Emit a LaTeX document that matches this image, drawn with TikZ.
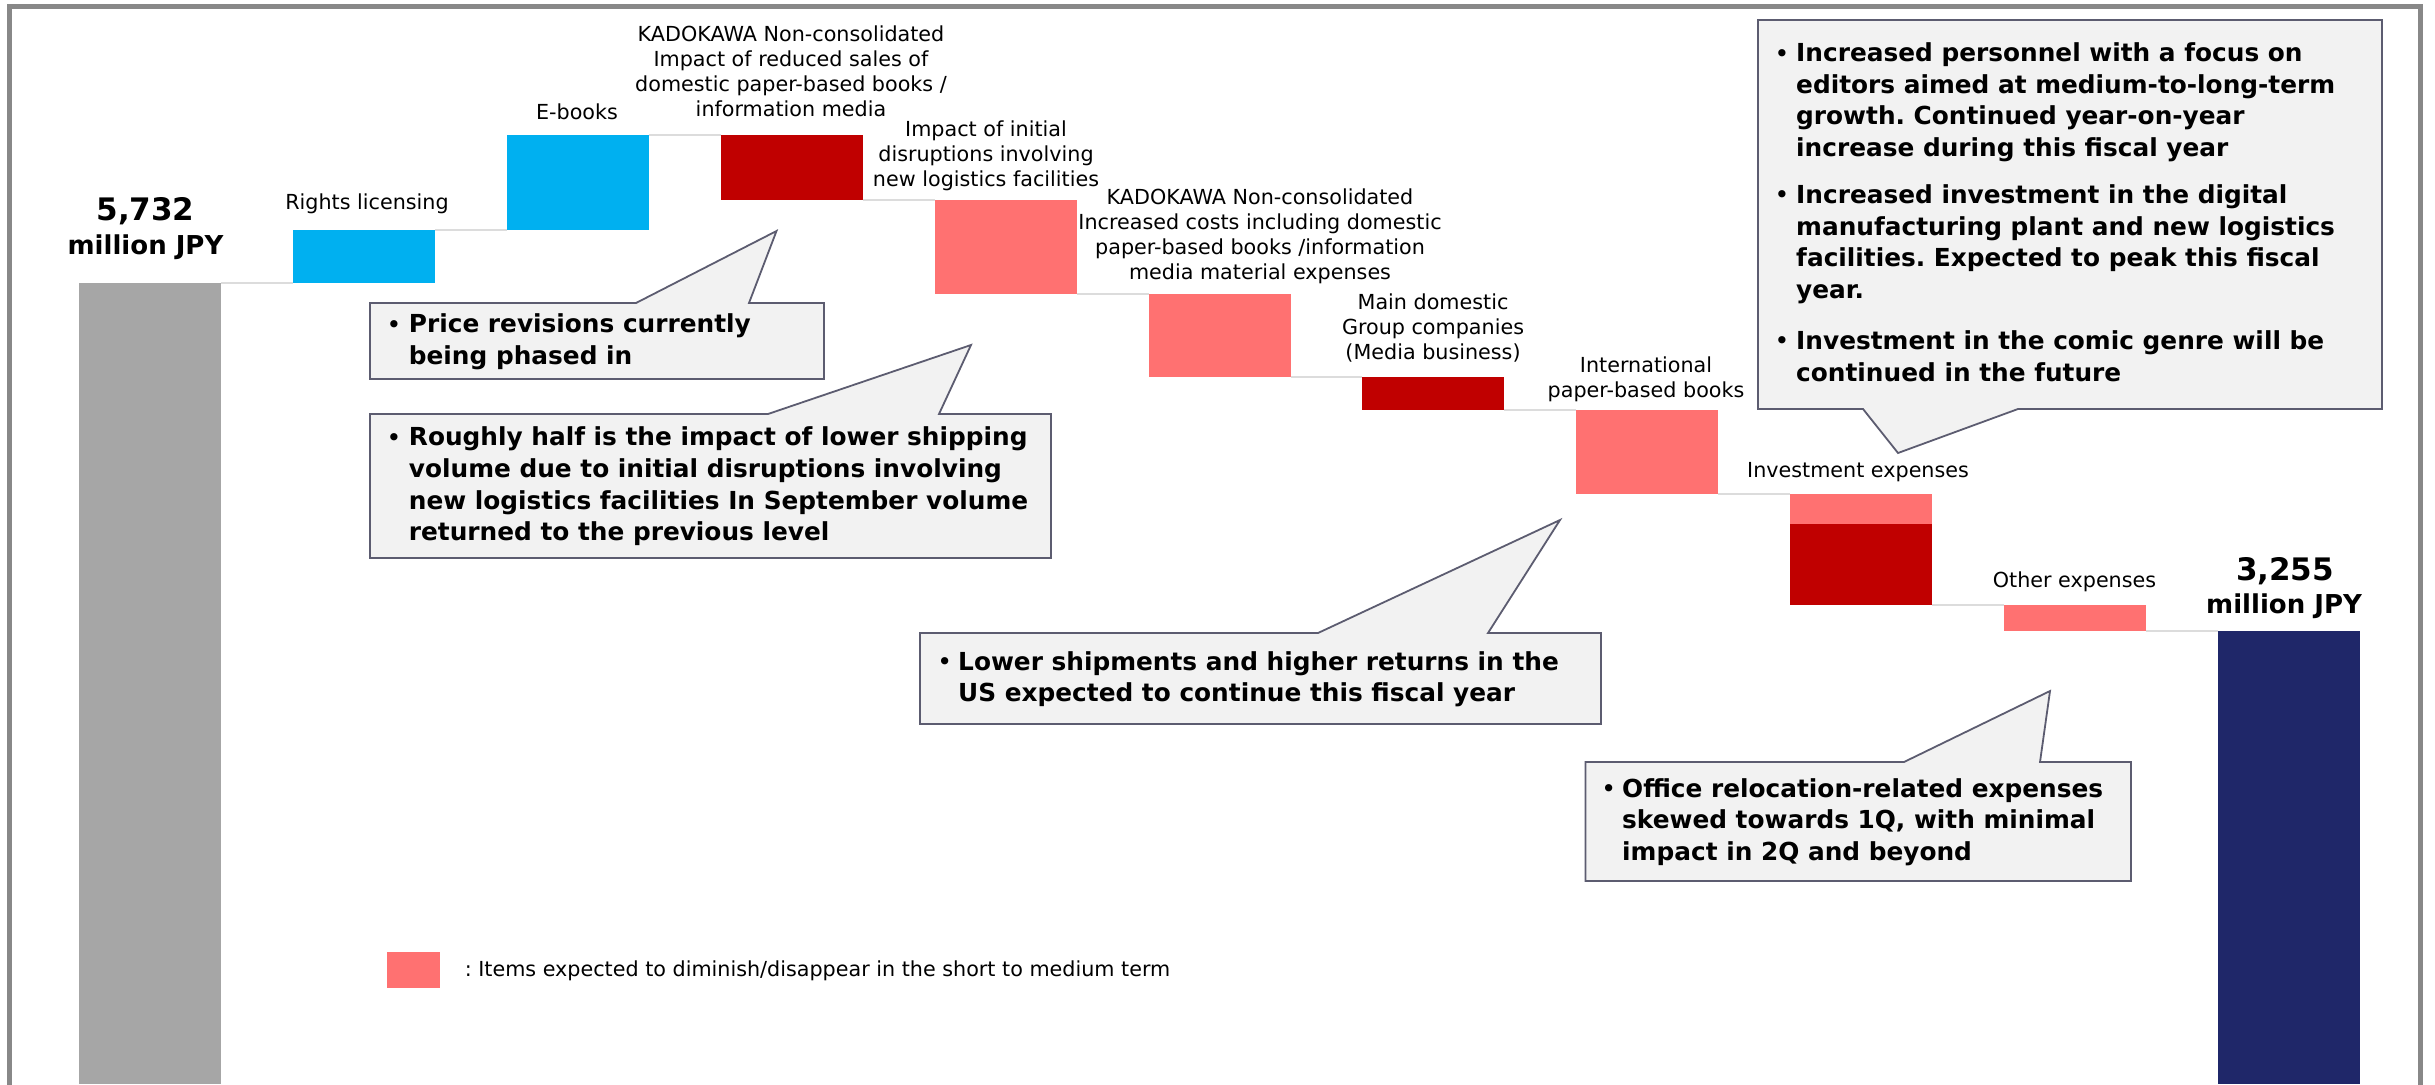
\documentclass[tikz,border=0pt]{standalone}
\usepackage{fontspec}
\setmainfont{DejaVu Sans}
\frenchspacing
\definecolor{barcyan}{HTML}{00B0F0}
\definecolor{bardark}{HTML}{C00000}
\definecolor{barpink}{HTML}{FF7171}
\definecolor{bargray}{HTML}{A6A6A6}
\definecolor{barnavy}{HTML}{1F2769}
\definecolor{linkgray}{HTML}{DCDCDC}
\definecolor{framegray}{HTML}{888888}
\definecolor{notefill}{HTML}{F2F2F2}
\definecolor{noteline}{HTML}{5C5C70}
\begin{document}
\begin{tikzpicture}[x=1pt,y=-1pt,
  bar/.style={rectangle, draw=none, inner sep=0pt, outer sep=0pt,
    minimum width=142pt, anchor=north west},
  link/.style={draw=linkgray, line width=2.5pt},
  lbl/.style={inner sep=0pt, align=center, anchor=south,
    font=\fontsize{20.7}{25}\selectfont, execute at end node=\strut},
  total/.style={inner sep=0pt, anchor=base, font=\bfseries\fontsize{31}{31}\selectfont},
  unit/.style={inner sep=0pt, anchor=base, font=\bfseries\fontsize{26}{26}\selectfont},
  note/.style={fill=notefill, draw=noteline, line width=1.8pt, line join=miter},
  notetext/.style={inner sep=0pt, align=left, anchor=north west,
    font=\bfseries\fontsize{24.8}{31.5}\selectfont, execute at begin node=\strut},
  dot/.style={inner sep=0pt, anchor=base, yshift=3pt, font=\fontsize{25}{25}\selectfont}
]
\useasboundingbox (0,0) rectangle (2435,1084);
\clip (0,0) rectangle (2435,1084);

% outer frame (open at the bottom)
\draw[framegray, line width=5pt, line join=miter]
  (9.5,1090) -- (9.5,6.5) -- (2420.5,6.5) -- (2420.5,1090);

% waterfall bars
\node[bar, fill=bargray, minimum height=801pt] (b0) at (79,283) {};
\node[bar, fill=barcyan, minimum height=53pt]  (b1) at (292.9,230) {};
\node[bar, fill=barcyan, minimum height=95pt]  (b2) at (506.8,135) {};
\node[bar, fill=bardark, minimum height=65pt]  (b3) at (720.7,135) {};
\node[bar, fill=barpink, minimum height=94pt]  (b4) at (934.6,200) {};
\node[bar, fill=barpink, minimum height=83pt]  (b5) at (1148.5,294) {};
\node[bar, fill=bardark, minimum height=33pt]  (b6) at (1362.4,377) {};
\node[bar, fill=barpink, minimum height=84pt]  (b7) at (1576.3,410) {};
\node[bar, fill=barpink, minimum height=30pt]  (b8) at (1790.2,494) {};
\node[bar, fill=bardark, minimum height=81pt]  (b8r) at (1790.2,524) {};
\node[bar, fill=barpink, minimum height=26pt]  (b9) at (2004.1,605) {};
\node[bar, fill=barnavy, minimum height=453pt] (b10) at (2218,631) {};

% step connectors between bars
\draw[link] (b0.north east) -- (b1.south west);
\draw[link] (b1.north east) -- (b2.south west);
\draw[link] (b2.north east) -- (b3.north west);
\draw[link] (b3.south east) -- (b4.north west);
\draw[link] (b4.south east) -- (b5.north west);
\draw[link] (b5.south east) -- (b6.north west);
\draw[link] (b6.south east) -- (b7.north west);
\draw[link] (b7.south east) -- (b8.north west);
\draw[link] (b8r.south east) -- (b9.north west);
\draw[link] (b9.south east) -- (b10.north west);

% totals
\node[total] (t0) at (145.5,220) {5,732};
\node[unit]  (u0) at (145.5,254) {million JPY};
\node[total] (t1) at (2285,580) {3,255};
\node[unit]  (u1) at (2284,613) {million JPY};

% bar labels
\node[lbl] (l1) at (367,217.5) {Rights licensing};
\node[lbl] (l2) at (577,127.5) {E-books};
\node[lbl] (l3) at (791,124.5) {KADOKAWA Non-consolidated\\Impact of reduced sales of\\domestic paper-based books /\\information media};
\node[lbl] (l4) at (986,194.5) {Impact of initial\\disruptions involving\\new logistics facilities};
\node[lbl] (l5) at (1260,287) {KADOKAWA Non-consolidated\\Increased costs including domestic\\paper-based books /information\\media material expenses};
\node[lbl] (l6) at (1433,367) {Main domestic\\Group companies\\(Media business)};
\node[lbl] (l7) at (1646,405.5) {International\\paper-based books};
\node[lbl] (l8) at (1858,485) {Investment expenses};
\node[lbl] (l9) at (2074.5,595) {Other expenses};

% callout: price revisions
\path[note] (370,303) -- (636,303) -- (776.5,231) -- (749,303) -- (824,303)
  -- (824,379) -- (370,379) -- cycle;
\node[dot] (d1) at (394,336) {•};
\node[notetext] (n1) at (408.7,313.95) {Price revisions currently\\being phased in};

% callout: logistics disruptions
\path[note] (370,414) -- (768,414) -- (971,345) -- (939,414) -- (1051,414)
  -- (1051,558) -- (370,558) -- cycle;
\node[dot] (d2) at (394,449) {•};
\node[notetext] (n2) at (408.7,426.95) {Roughly half is the impact of lower shipping\\volume due to initial disruptions involving\\new logistics facilities In September volume\\returned to the previous level};

% callout: international books
\path[note] (920,633) -- (1318,633) -- (1560,520) -- (1488,633) -- (1601,633)
  -- (1601,724) -- (920,724) -- cycle;
\node[dot] (d3) at (944.7,673) {•};
\node[notetext] (n3) at (958,650.95) {Lower shipments and higher returns in the\\US expected to continue this fiscal year};

% callout: office relocation
\path[note] (1585.5,762) -- (1904,762) -- (2050,691) -- (2040,762) -- (2131,762)
  -- (2131,881) -- (1585.5,881) -- cycle;
\node[dot] (d4) at (1608.7,800) {•};
\node[notetext] (n4) at (1622,777.95) {Office relocation-related expenses\\skewed towards 1Q, with minimal\\impact in 2Q and beyond};

% callout: investment expenses
\path[note] (1758,20) -- (2382,20) -- (2382,409) -- (2018,409) -- (1898,453)
  -- (1863,409) -- (1758,409) -- cycle;
\node[dot] (d5a) at (1782,65) {•};
\node[notetext] (n5a) at (1796,42.95) {Increased personnel with a focus on\\editors aimed at medium-to-long-term\\growth. Continued year-on-year\\increase during this fiscal year};
\node[dot] (d5b) at (1782,206.7) {•};
\node[notetext] (n5b) at (1796,184.65) {Increased investment in the digital\\manufacturing plant and new logistics\\facilities. Expected to peak this fiscal\\year.};
\node[dot] (d5c) at (1782,352.7) {•};
\node[notetext] (n5c) at (1796,330.65) {Investment in the comic genre will be\\continued in the future};

% legend
\node[rectangle, fill=barpink, inner sep=0pt, minimum width=53pt, minimum height=36pt,
  anchor=north west] (key) at (387,952) {};
\node[inner sep=0pt, anchor=base west, font=\fontsize{20.7}{25}\selectfont] (keytext)
  at (464.6,976.5) {: Items expected to diminish/disappear in the short to medium term};
\end{tikzpicture}
\end{document}
